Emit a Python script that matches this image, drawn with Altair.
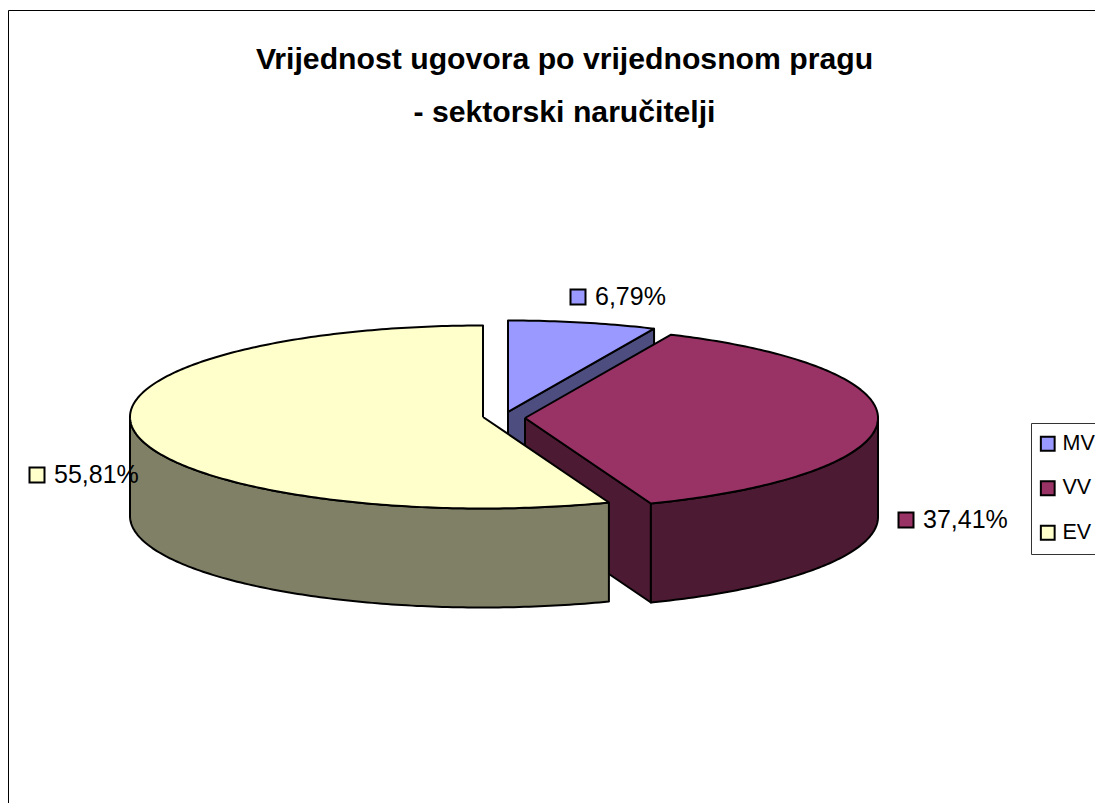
import math
import altair as alt
import pandas as pd

categories = ["MV", "VV", "EV"]
shares = [6.79, 37.41, 55.81]
share_labels = ["6,79%", "37,41%", "55,81%"]
title_lines = ["Vrijednost ugovora po vrijednosnom pragu", "- sektorski naručitelji"]
top_colors = ["#9999FF", "#993366", "#FFFFCC"]
wall_colors = ["#4D4D80", "#4D1A33", "#808066"]

# Layout of the tilted pie, in page pixels
A, B, DEPTH = 353, 91.5, 99
CENTERS = [(508, 412), (525, 418), (483, 417)]
LABEL_ANCHORS = [(578, 297), (906, 520), (37, 475)]
W, H = 1087, 795

xs = alt.X("x:Q", axis=None, scale=alt.Scale(domain=[8, 8 + W], nice=False, zero=False))
ys = alt.Y("y:Q", axis=None, scale=alt.Scale(domain=[8 + H, 8], nice=False, zero=False))


def rim(c, t0, t1, dy=0):
    n = max(2, int(abs(t1 - t0) * 1.2))
    out = []
    for k in range(n + 1):
        t = math.radians(t0 + (t1 - t0) * k / n)
        out.append((c[0] + A * math.sin(t), c[1] - B * math.cos(t) + dy))
    return out


def poly(points, color):
    pts = points + [points[0]]
    df = pd.DataFrame({"x": [p[0] for p in pts], "y": [p[1] for p in pts], "i": range(len(pts))})
    return (
        alt.Chart(df)
        .mark_line(fill=color, stroke="black", strokeWidth=2, strokeJoin="round", clip=False)
        .encode(x=xs, y=ys, order=alt.Order("i:Q"))
    )


cum = [0]
total = sum(shares)
for s in shares:
    cum.append(cum[-1] + s / total * 360)

layers = []
for idx in range(3):
    c = CENTERS[idx]
    t0, t1 = cum[idx], cum[idx + 1]
    # cut face visible on the trailing edge of MV and VV
    if idx in (0, 1):
        e = rim(c, t1, t1)[0]
        layers.append(poly([c, e, (e[0], e[1] + DEPTH), (c[0], c[1] + DEPTH)], wall_colors[idx]))
    # outer wall: the part of the rim facing the viewer (90..270 degrees)
    a0, a1 = max(t0, 90), min(t1, 270)
    if a1 > a0:
        layers.append(poly(rim(c, a0, a1) + rim(c, a1, a0, DEPTH), wall_colors[idx]))
    layers.append(poly([c] + rim(c, t0, t1), top_colors[idx]))

labels = pd.DataFrame({
    "cat": categories,
    "text": share_labels,
    "x": [p[0] for p in LABEL_ANCHORS],
    "y": [p[1] for p in LABEL_ANCHORS],
})
fill = alt.Fill(
    "cat:N",
    sort=categories,
    scale=alt.Scale(domain=categories, range=top_colors),
    legend=alt.Legend(
        title=None, orient="none", legendX=1023, legendY=415,
        padding=10, strokeColor="#333333", fillColor="white",
        symbolType="square", symbolSize=190, symbolStrokeColor="black", symbolStrokeWidth=2,
        symbolOffset=-4,
        labelFont="Liberation Sans", labelFontSize=21.5, labelColor="black", labelOffset=4,
        rowPadding=21.5, labelLimit=100,
    ),
)
squares = alt.Chart(labels).mark_square(size=225, stroke="black", strokeWidth=2, opacity=1).encode(x=xs, y=ys, fill=fill)
texts = alt.Chart(labels).mark_text(
    align="left", baseline="middle", dx=17, font="Liberation Sans", fontSize=25, color="black"
).encode(x=xs, y=ys, text="text:N")

frame_left = alt.Chart(pd.DataFrame({"a": [0]})).mark_rule(color="black", strokeWidth=1).encode(
    x=alt.value(0.5), y=alt.value(2.5), y2=alt.value(H))
frame_top = alt.Chart(pd.DataFrame({"a": [0]})).mark_rule(color="black", strokeWidth=1).encode(
    x=alt.value(0.5), x2=alt.value(W), y=alt.value(2.5))

chart = (
    alt.layer(frame_left, frame_top, *layers, squares, texts)
    .properties(
        width=W, height=H,
        autosize=alt.AutoSizeParams(type="none"),
        padding=0,
        title=alt.TitleParams(
            text=title_lines, anchor="middle", frame="group", orient="top", baseline="top",
            font="Liberation Sans", fontSize=30.2, fontWeight="bold", color="black",
            lineHeight=53, dx=13, offset=-120.5,
        ),
    )
    .configure_view(stroke=None)
)
chart.save("out.html", embed_options={"renderer": "svg", "actions": False})
